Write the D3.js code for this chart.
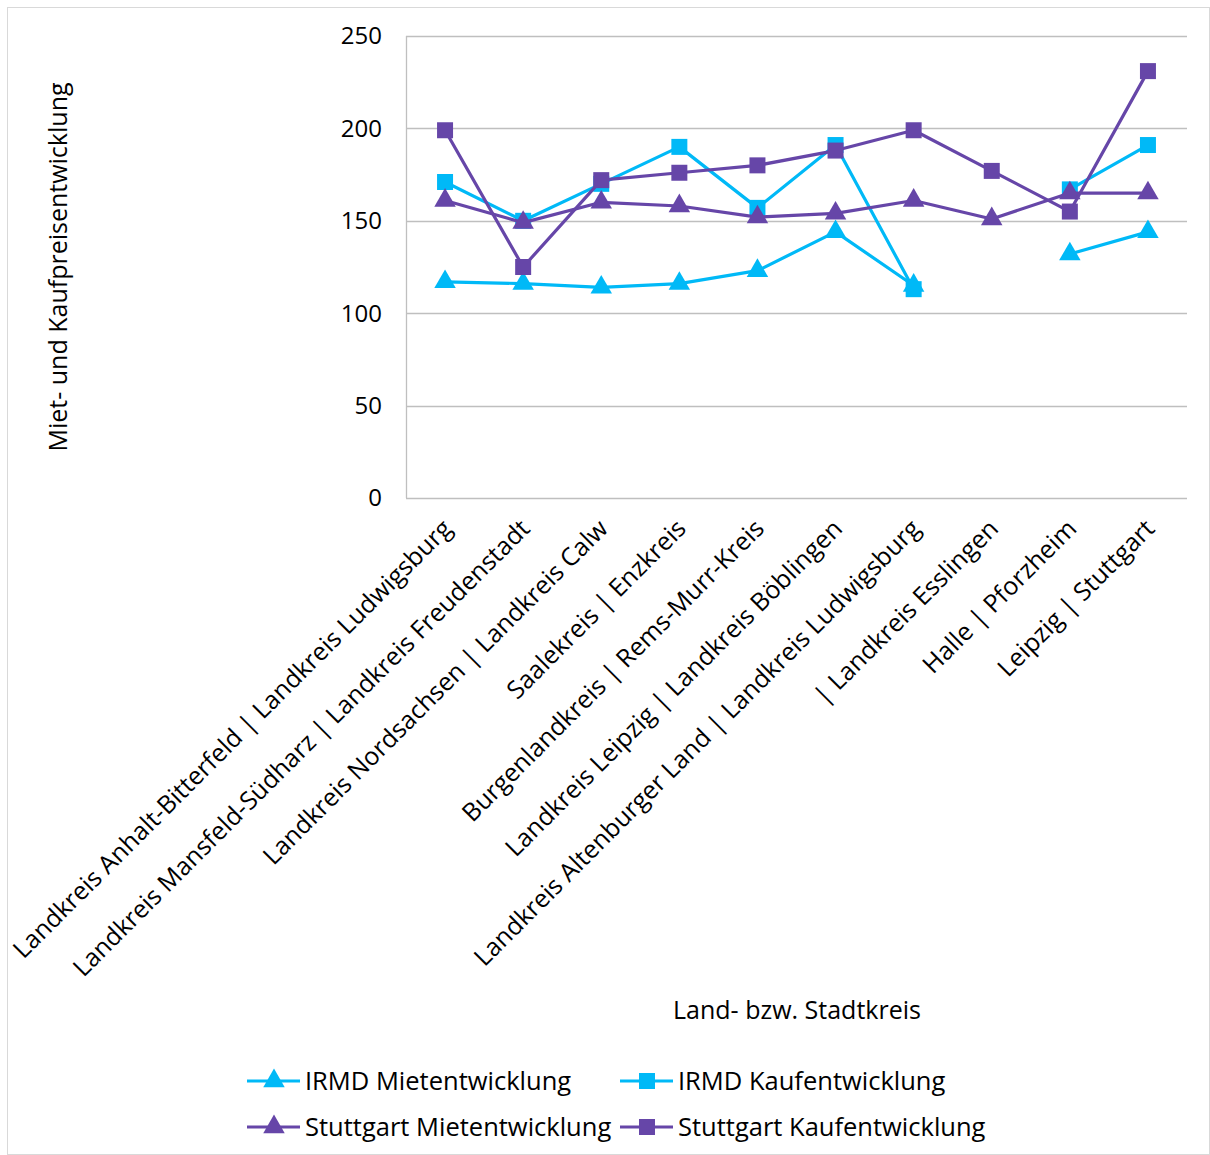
<!DOCTYPE html>
<html lang="de">
<head>
<meta charset="UTF-8">
<title>Miet- und Kaufpreisentwicklung</title>
<style>
    body { margin: 0; background: #fff; }
    svg { display: block; font-family: "Open Sans", sans-serif; }
</style>
</head>
<body>
<div id="chart"></div>
<script src="https://cdn.jsdelivr.net/npm/d3@7/dist/d3.min.js"></script>
<script>
"use strict";

// categories (x axis)
var categories = [
    "Landkreis Anhalt-Bitterfeld | Landkreis Ludwigsburg",
    "Landkreis Mansfeld-Südharz | Landkreis Freudenstadt",
    "Landkreis Nordsachsen | Landkreis Calw",
    "Saalekreis | Enzkreis",
    "Burgenlandkreis | Rems-Murr-Kreis",
    "Landkreis Leipzig | Landkreis Böblingen",
    "Landkreis Altenburger Land | Landkreis Ludwigsburg",
    " | Landkreis Esslingen",
    "Halle | Pforzheim",
    "Leipzig | Stuttgart"
];

// series values (null = no value)
var irmdMiete = [117, 116, 114, 116, 123, 144, 115, null, 132, 144];
var irmdKauf = [171, 150, 170, 190, 157, 191, 113, null, 167, 191];
var stgMiete = [161, 149, 160, 158, 152, 154, 161, 151, 165, 165];
var stgKauf = [199, 125, 172, 176, 180, 188, 199, 177, 155, 231];

var yTicks = [0, 50, 100, 150, 200, 250];

var series = [
    { name: "IRMD Mietentwicklung", values: irmdMiete, color: "#00b9f7", symbol: d3.symbolTriangle },
    { name: "IRMD Kaufentwicklung", values: irmdKauf, color: "#00b9f7", symbol: d3.symbolSquare },
    { name: "Stuttgart Mietentwicklung", values: stgMiete, color: "#6646a8", symbol: d3.symbolTriangle },
    { name: "Stuttgart Kaufentwicklung", values: stgKauf, color: "#6646a8", symbol: d3.symbolSquare }
];

var width = 1210, height = 1155;
var plot = { left: 406, right: 1187, top: 36, bottom: 498 };

var svg = d3.select("#chart").append("svg")
    .attr("width", width)
    .attr("height", height);

// outer frame
svg.append("rect")
    .attr("x", 7.5).attr("y", 7.5)
    .attr("width", width - 8).attr("height", height - 8)
    .attr("fill", "none")
    .attr("stroke", "#d9d9d9");

var x = d3.scaleBand()
    .domain(d3.range(categories.length))
    .range([plot.left, plot.right]);

var y = d3.scaleLinear()
    .domain([0, 250])
    .range([plot.bottom, plot.top]);

// gridlines
svg.append("g")
    .selectAll("line")
    .data(yTicks)
    .enter()
    .append("line")
    .attr("x1", plot.left).attr("x2", plot.right)
    .attr("y1", function(d) { return Math.round(y(d)) + 0.5; })
    .attr("y2", function(d) { return Math.round(y(d)) + 0.5; })
    .attr("stroke", "#bfbfbf")
    .attr("stroke-width", 1.3);

// vertical axis line
svg.append("line")
    .attr("x1", plot.left + 0.5).attr("x2", plot.left + 0.5)
    .attr("y1", plot.top).attr("y2", plot.bottom)
    .attr("stroke", "#bfbfbf")
    .attr("stroke-width", 1.3);

// y tick labels
svg.append("g")
    .selectAll("text")
    .data(yTicks)
    .enter()
    .append("text")
    .attr("x", 382)
    .attr("y", function(d) { return y(d); })
    .attr("dy", "0.35em")
    .attr("text-anchor", "end")
    .attr("font-size", 24)
    .attr("fill", "#000")
    .text(function(d) { return d; });

// y axis title
svg.append("text")
    .attr("transform", "translate(67," + 267 + ") rotate(-90)")
    .attr("text-anchor", "middle")
    .attr("font-size", 25)
    .text("Miet- und Kaufpreisentwicklung");

// category labels
svg.append("g")
    .selectAll("text")
    .data(categories)
    .enter()
    .append("text")
    .attr("transform", function(d, i) {
        return "translate(" + (x(i) + x.bandwidth() / 2 + 2) + "," + 524 + ") rotate(-45)";
    })
    .attr("text-anchor", "end")
    .attr("dy", "0.35em")
    .attr("font-size", 25)
    .text(function(d) { return d; });

// x axis title
svg.append("text")
    .attr("x", 797).attr("y", 1019)
    .attr("text-anchor", "middle")
    .attr("font-size", 25)
    .text("Land- bzw. Stadtkreis");

var line = d3.line()
    .defined(function(d) { return d != null; })
    .x(function(d, i) { return x(i) + x.bandwidth() / 2; })
    .y(function(d) { return y(d); });

series.forEach(function(s) {
    var g = svg.append("g");
    g.append("path")
        .datum(s.values)
        .attr("d", line)
        .attr("fill", "none")
        .attr("stroke", s.color)
        .attr("stroke-width", 3.2)
        .attr("stroke-linejoin", "round");

    g.selectAll("path.m")
        .data(s.values.map(function(v, i) { return { v: v, i: i }; })
            .filter(function(d) { return d.v != null; }))
        .enter()
        .append("path")
        .attr("class", "m")
        .attr("d", d3.symbol().type(s.symbol).size(s.symbol === d3.symbolSquare ? 256 : 200))
        .attr("transform", function(d) {
            return "translate(" + (x(d.i) + x.bandwidth() / 2) + "," + y(d.v) + ")";
        })
        .attr("fill", s.color);
});

// legend
var legendPos = [
    { x: 247, y: 1081 },
    { x: 620, y: 1081 },
    { x: 247, y: 1127 },
    { x: 620, y: 1127 }
];

var legend = svg.append("g")
    .selectAll("g")
    .data(series)
    .enter()
    .append("g")
    .attr("transform", function(d, i) {
        return "translate(" + legendPos[i].x + "," + legendPos[i].y + ")";
    });

legend.append("line")
    .attr("x1", 0).attr("x2", 53)
    .attr("stroke", function(d) { return d.color; })
    .attr("stroke-width", 3.2);

legend.append("path")
    .attr("d", function(d) {
        return d3.symbol().type(d.symbol).size(d.symbol === d3.symbolSquare ? 256 : 200)();
    })
    .attr("transform", "translate(27,0)")
    .attr("fill", function(d) { return d.color; });

legend.append("text")
    .attr("x", 58)
    .attr("dy", "0.35em")
    .attr("font-size", 25.5)
    .text(function(d) { return d.name; });
</script>
</body>
</html>
